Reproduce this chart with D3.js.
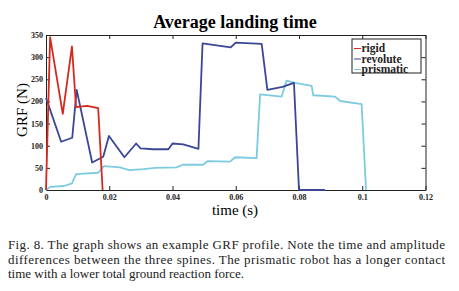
<!DOCTYPE html>
<html>
<head>
<meta charset="utf-8">
<script src="https://cdn.jsdelivr.net/npm/d3@7"></script>
<style>
  body { margin: 0; background: #fff; }
  svg { display: block; font-family: "Liberation Serif", "Times New Roman", serif; }
</style>
</head>
<body>
<svg id="chart" width="459" height="291"></svg>
<script>
// values
const rigidT = [0, 0.0013, 0.0053, 0.0082, 0.0095, 0.0130, 0.0165, 0.0179];
const rigidF = [0, 345, 172, 324, 187, 190, 185, 0];

const revoluteT = [0, 0.0048, 0.0083, 0.0097, 0.0146, 0.0181, 0.0199, 0.0248, 0.0285, 0.0299, 0.0339,
                   0.0387, 0.0400, 0.0434, 0.0482, 0.0495, 0.0584, 0.0600, 0.0682, 0.0700, 0.0748,
                   0.0784, 0.0800, 0.0882];
const revoluteF = [208, 109, 118, 226, 62, 75, 122, 74, 105, 94, 92,
                   92, 105, 103, 93, 331, 322, 333, 330, 226, 233,
                   242, 0, 0];

const prismaticT = [0, 0.0013, 0.0057, 0.0082, 0.0095, 0.0165, 0.0183, 0.0234, 0.0263, 0.0308, 0.0345,
                    0.0413, 0.0432, 0.0497, 0.0510, 0.0582, 0.0598, 0.0666, 0.0677, 0.0745, 0.0761,
                    0.0787, 0.0840, 0.0845, 0.0914, 0.0930, 0.0998, 0.1012];
const prismaticF = [0, 7, 9, 15, 36, 39, 54, 51, 45, 47, 50,
                    51, 57, 57, 65, 64, 74, 72, 216, 211, 247,
                    242, 235, 214, 211, 201, 194, 0];

const xTicks = [0, 0.02, 0.04, 0.06, 0.08, 0.1, 0.12];
const xTickLabels = ["0", "0.02", "0.04", "0.06", "0.08", "0.1", "0.12"];
const yTicks = [0, 50, 100, 150, 200, 250, 300, 350];

const seriesNames = ["rigid", "revolute", "prismatic"];
const seriesColors = ["#d42a1e", "#3b4796", "#7ecbdf"];

const captionLines = [
    "Fig. 8.  The graph shows an example GRF profile. Note the time and amplitude",
    "differences between the three spines. The prismatic robot has a longer contact",
    "time with a lower total ground reaction force."
];

const serif = "Liberation Serif, Times New Roman, serif";
const svg = d3.select("#chart");
const plotLeft = 46, plotRight = 425.5, plotTop = 35, plotBottom = 190;
const plotWidth = plotRight - plotLeft, plotHeight = plotBottom - plotTop;

const xScale = d3.scaleLinear().domain([0, 0.12]).range([0, plotWidth]);
const yScale = d3.scaleLinear().domain([0, 350]).range([plotHeight, 0]);

const plot = svg.append("g").attr("transform", `translate(${plotLeft}, ${plotTop})`);

// title
svg.append("text")
    .attr("x", 235).attr("y", 28)
    .attr("text-anchor", "middle")
    .attr("font-family", serif)
    .attr("font-size", 18).attr("font-weight", "bold")
    .text("Average landing time");

// axes, ticks pointing inward
const axisStyle = g => {
    g.selectAll("text").attr("font-size", 8).attr("font-weight", "bold").attr("fill", "#222")
        .attr("font-family", serif);
    g.selectAll("line, path").attr("stroke", "#222");
};

plot.append("g")
    .attr("transform", `translate(0, ${plotHeight})`)
    .call(d3.axisBottom(xScale).tickValues(xTicks).tickFormat((d, i) => xTickLabels[i])
        .tickSizeInner(-4).tickSizeOuter(0).tickPadding(4))
    .call(axisStyle);
plot.append("g")
    .call(d3.axisTop(xScale).tickValues(xTicks).tickFormat("")
        .tickSizeInner(-4).tickSizeOuter(0))
    .call(axisStyle);
plot.append("g")
    .call(d3.axisLeft(yScale).tickValues(yTicks)
        .tickSizeInner(-4).tickSizeOuter(0).tickPadding(3))
    .call(axisStyle);
plot.append("g")
    .attr("transform", `translate(${plotWidth}, 0)`)
    .call(d3.axisRight(yScale).tickValues(yTicks).tickFormat("")
        .tickSizeInner(-4).tickSizeOuter(0))
    .call(axisStyle);

// series lines
const line = d3.line().x(d => xScale(d[0])).y(d => yScale(d[1]));
const seriesData = [
    d3.zip(rigidT, rigidF),
    d3.zip(revoluteT, revoluteF),
    d3.zip(prismaticT, prismaticF)
];
// draw prismatic first, rigid last
[2, 1, 0].forEach(i => {
    plot.append("path")
        .datum(seriesData[i])
        .attr("fill", "none")
        .attr("stroke", seriesColors[i])
        .attr("stroke-width", 1.8)
        .attr("stroke-linejoin", "round")
        .attr("d", line);
});

// axis labels
svg.append("text")
    .attr("x", 235).attr("y", 215)
    .attr("text-anchor", "middle")
    .attr("font-family", serif)
    .attr("font-size", 15)
    .text("time (s)");
svg.append("text")
    .attr("transform", "translate(27, 110) rotate(-90)")
    .attr("text-anchor", "middle")
    .attr("font-family", serif)
    .attr("font-size", 15)
    .text("GRF (N)");

// legend
const legend = svg.append("g").attr("transform", "translate(352, 39)");
legend.append("rect")
    .attr("width", 69).attr("height", 34)
    .attr("fill", "#fff").attr("stroke", "#222").attr("stroke-width", 1);
seriesNames.forEach((name, i) => {
    const y = 9.5 + i * 10.5;
    legend.append("line")
        .attr("x1", 2).attr("x2", 9).attr("y1", y).attr("y2", y)
        .attr("stroke", seriesColors[i]).attr("stroke-width", 1);
    legend.append("text")
        .attr("x", 9.5).attr("y", y + 3.5)
        .attr("font-family", serif)
        .attr("font-size", 11.5).attr("font-weight", "bold")
        .attr("fill", "#222")
        .text(name);
});

// caption
captionLines.forEach((t, i) => {
    const txt = svg.append("text")
        .attr("x", 8).attr("y", 249 + i * 14.5)
        .attr("font-family", serif)
        .attr("font-size", 13)
        .attr("fill", "#222")
        .text(t);
    if (i < 2) txt.attr("textLength", 437).attr("lengthAdjust", "spacing");
});
</script>
</body>
</html>
